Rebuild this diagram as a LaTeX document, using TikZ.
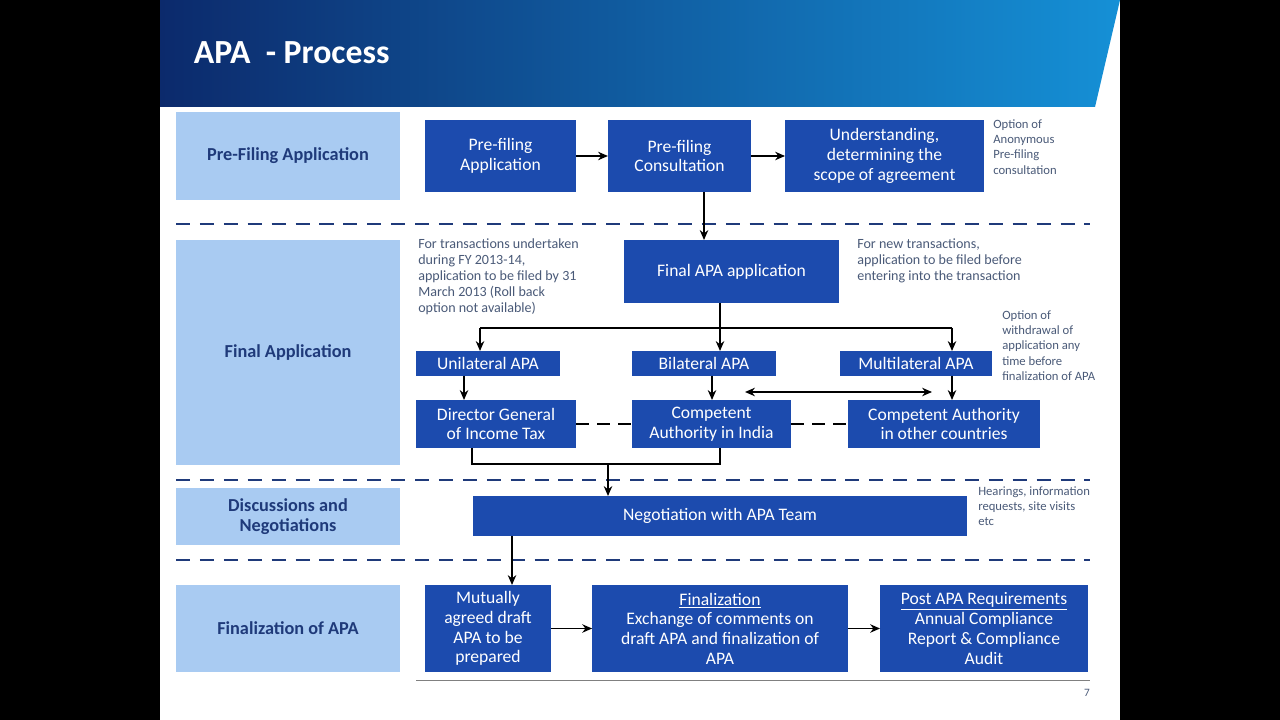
\documentclass[tikz,border=0pt]{standalone}
\usepackage{fontspec}
\setmainfont{Carlito}
\usetikzlibrary{arrows.meta}
\definecolor{bx}{HTML}{1C4BAE}
\definecolor{lb}{HTML}{A9CBF2}
\definecolor{dk}{HTML}{1F3A7A}
\definecolor{nt}{HTML}{4A5A78}
\definecolor{hl}{HTML}{0C2A6C}
\definecolor{hr}{HTML}{1590D6}
\begin{document}
\begin{tikzpicture}[x=0.025cm,y=-0.025cm,
 bb/.style={fill=bx,text=white,align=center,font=\fontsize{12.5}{14}\selectfont,inner sep=0pt},
 ll/.style={fill=lb,text=dk,align=center,font=\bfseries\fontsize{13}{14.5}\selectfont,inner sep=0pt},
 nn/.style={text=nt,align=left,anchor=north west,font=\fontsize{9}{11}\selectfont,inner sep=0pt},
 ar/.style={-{Stealth[length=7pt,width=6pt]},line width=1.3pt},
 ln/.style={line width=1.3pt},
 dl/.style={dash pattern=on 10pt off 7pt,line width=1.6pt,draw=dk}]
\fill[black] (0,0) rectangle (1280,720);
\fill[white] (160,0) rectangle (1120,720);
\shade[left color=hl, right color=hr] (160,0) -- (1120,0) -- (1095,107) -- (160,107) -- cycle;
\node[anchor=west,text=white,font=\bfseries\fontsize{24}{26}\selectfont] (t) at (189,53) {APA\ \ - Process};
% left labels
\node[ll,minimum width=224*0.709pt,minimum height=88*0.709pt] (L1) at (288,156) {Pre-Filing Application};
\node[ll,minimum width=224*0.709pt,minimum height=225*0.709pt] (L2) at (288,352.5) {Final Application};
\node[ll,minimum width=224*0.709pt,minimum height=57*0.709pt] (L3) at (288,516.5) {Discussions and\\Negotiations};
\node[ll,minimum width=224*0.709pt,minimum height=87*0.709pt] (L4) at (288,628.5) {Finalization of APA};
% dashed
\foreach \y in {224,480,560} \draw[dl] (176,\y) -- (1090,\y);
% boxes
\newcommand{\bxx}[6]{\node[bb,minimum width={(#4-#3)*0.709pt},minimum height={(#6-#5)*0.709pt}] (#1) at ({(#3+#4)/2},{(#5+#6)/2}) {#2};}
\bxx{pfa}{Pre-filing\\Application}{425}{576}{120}{192}
\bxx{pfc}{Pre-filing\\Consultation}{608}{751}{120}{192}
\bxx{und}{Understanding,\\determining the\\scope of agreement}{785}{984}{120}{192}
\bxx{fin}{Final APA application}{624}{839}{240}{303}
\bxx{uni}{Unilateral APA}{416}{560}{351}{376}
\bxx{bil}{Bilateral APA}{632}{776}{351}{376}
\bxx{mul}{Multilateral APA}{840}{992}{351}{376}
\bxx{dg}{Director General\\of Income Tax}{416}{576}{400}{448}
\bxx{cai}{Competent\\Authority in India}{632}{791}{400}{448}
\bxx{cao}{Competent Authority\\in other countries}{848}{1040}{400}{448}
\bxx{neg}{Negotiation with APA Team}{472}{968}{496}{536}
\bxx{mut}{Mutually\\agreed draft\\APA to be\\prepared}{425}{551}{585}{672}
\bxx{fz}{\underline{Finalization}\\Exchange of comments on\\draft APA and finalization of\\APA}{592}{848}{585}{672}
\bxx{post}{\underline{Post APA Requirements}\\Annual Compliance\\Report \& Compliance\\Audit}{880}{1088}{585}{672}
% arrows
\draw[ar] (pfa) -- (pfc);
\draw[ar] (pfc) -- (und);
\draw[ar] (704,192) -- (704,240);
\coordinate (s) at (720,328);
\draw[ln] (720,303) -- (s);
\draw[ln] (480,328) -- (952,328);
\draw[ar] (480,328) -- (480,351);
\draw[ar] (s) -- (720,351);
\draw[ar] (952,328) -- (952,351);
\draw[ar] (464,376) -- (464,400);
\draw[ar] (712,376) -- (712,400);
\draw[ar] (952,376) -- (952,400);
\draw[{Stealth[length=7pt,width=6pt]}-{Stealth[length=7pt,width=6pt]},line width=1.3pt] (745,392) -- (932,392);
\draw[ln,dash pattern=on 9pt off 6pt] (dg) -- (cai);
\draw[ln,dash pattern=on 9pt off 6pt] (cai) -- (cao);
\draw[ln] (472,448) -- (472,464) -- (720,464) -- (720,448);
\draw[ar] (608,464) -- (608,496);
\draw[ar] (512,536) -- (512,585);
\draw[ar] (mut) -- (fz);
\draw[ar] (fz) -- (post);
% notes
\node[nn] (n1) at (993,119) {Option of\\Anonymous\\Pre-filing\\consultation};
\node[nn,font=\fontsize{10}{11.5}\selectfont] (n2) at (418,238) {For transactions undertaken\\during FY 2013-14,\\application to be filed by 31\\March 2013 (Roll back\\option not available)};
\node[nn,font=\fontsize{10}{11.5}\selectfont] (n3) at (857,238) {For new transactions,\\application to be filed before\\entering into the transaction};
\node[nn] (n4) at (1002,310) {Option of\\withdrawal of\\application any\\time before\\finalization of APA};
\node[nn] (n5) at (978,486) {Hearings, information\\requests, site visits\\etc};
\draw[gray,line width=0.6pt] (416,680) -- (1090,680);
\node[text=nt,font=\fontsize{8}{9}\selectfont] (pg) at (1087,693) {7};
\end{tikzpicture}
\end{document}
